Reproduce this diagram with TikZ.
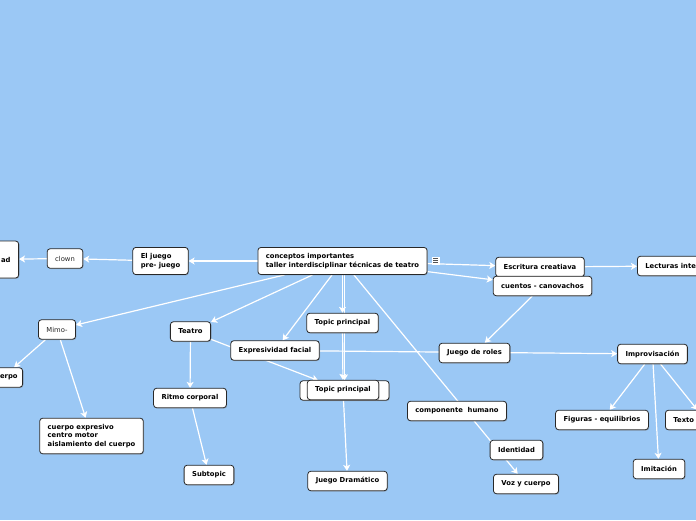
\documentclass[tikz,border=0pt]{standalone}
\usepackage{fontspec}
\setmainfont{DejaVu Sans}
\usetikzlibrary{positioning, arrows.meta, shadows}
\pgfdeclarelayer{back}
\pgfdeclarelayer{links}
\pgfsetlayers{back,links,main}
\definecolor{map_blue}{RGB}{155,200,245}
\definecolor{box_line}{RGB}{40,40,40}

\begin{document}
\begin{tikzpicture}[
    x=1pt, y=-1pt,
    topic_box/.style={rectangle, rounded corners=3pt, draw=box_line, line width=0.8pt, fill=white,
      drop shadow={shadow xshift=0.8pt, shadow yshift=-0.8pt, opacity=0.45},
      inner xsep=8pt, inner ysep=6pt, minimum height=19.5pt,
      font=\fontsize{6.8}{8.5}\selectfont\bfseries, align=left},
    plain_box/.style={topic_box, font=\fontsize{6.8}{8.5}\selectfont, text=black!85},
    menu_icon/.style={rectangle, fill=white, inner sep=0pt, minimum size=8pt},
    edge_path/.style={-{Stealth[length=6pt, width=7pt, inset=1.5pt]}, draw=white, line width=1.2pt}
  ]
    \useasboundingbox (0,0) rectangle (696,520);
    \begin{pgfonlayer}{back}
      \fill[map_blue] (0,0) rectangle (696,520);
    \end{pgfonlayer}

    \node[topic_box] (main) at (342.5,261) {conceptos importantes\\taller interdisciplinar técnicas de teatro};
    \node[menu_icon] (menu) at (435.5,260.5) {};
    \foreach \dy in {-2,0,2}
      \draw[box_line!80, line width=0.8pt] ([xshift=-2.5pt, yshift=\dy pt]menu.center) -- ([xshift=2.5pt, yshift=\dy pt]menu.center);

    \node[topic_box] (juego) at (160.5,261) {El juego\\pre- juego};
    \node[plain_box] (clown) at (65,258.5) {clown};
    \node[topic_box, anchor=east, text width=50pt, align=right, minimum height=37pt] (left_a) at (19,259.5) {ad};

    \node[plain_box] (mimo) at (57,329.5) {Mimo-};
    \node[topic_box, anchor=east, text width=30pt, align=right, inner xsep=5pt] (left_b) at (23,377.5) {erpo};
    \node[topic_box] (cuerpo_exp) at (91.5,436) {cuerpo expresivo\\centro motor\\aislamiento del cuerpo};

    \node[topic_box] (teatro) at (190.5,331.5) {Teatro};
    \node[topic_box] (ritmo) at (190,398) {Ritmo corporal};
    \node[topic_box] (subtopic) at (209,475) {Subtopic};

    \node[topic_box] (topic_a) at (342.5,323) {Topic principal};
    \node[topic_box] (expresividad) at (275,350.5) {Expresividad facial};
    \node[topic_box, minimum width=89pt] (topic_back) at (344.5,390.5) {};
    \node[topic_box] (topic_b) at (343,390) {Topic principal};
    \node[topic_box] (dramatico) at (347.5,481) {Juego Dramático};

    \node[topic_box] (componente) at (457,411) {componente~ humano};
    \node[topic_box] (identidad) at (516.5,450) {Identidad};
    \node[topic_box] (voz) at (526,484) {Voz y cuerpo};

    \node[topic_box] (escritura) at (540,267) {Escritura creatiava};
    \node[topic_box] (cuentos) at (542.5,286) {cuentos - canovachos};
    \node[topic_box, anchor=west] (lecturas) at (637,266) {Lecturas inte};

    \node[topic_box] (roles) at (474.5,353) {Juego de roles};
    \node[topic_box] (improv) at (652.5,354) {Improvisación};
    \node[topic_box] (figuras) at (602,420) {Figuras - equilibrios};
    \node[topic_box, anchor=west, text width=64pt] (texto) at (665,420) {Texto};
    \node[topic_box] (imitacion) at (659,469) {Imitación};

    \begin{pgfonlayer}{links}
      \draw[edge_path] (main) -- (juego);
      \draw[edge_path] (juego) -- (clown);
      \draw[edge_path] (clown) -- (left_a);
      \draw[edge_path] (main) -- (mimo);
      \draw[edge_path] (mimo) -- (left_b);
      \draw[edge_path] (mimo) -- (cuerpo_exp);
      \draw[edge_path] (main) -- (teatro);
      \draw[edge_path] (teatro) -- (ritmo);
      \draw[edge_path] (ritmo) -- (subtopic);
      \draw[edge_path] (teatro) -- (topic_back);
      \draw[edge_path] (main) -- (expresividad);
      \draw[edge_path] (expresividad) -- (improv);
      \draw[edge_path] (main) -- (topic_a);
      \draw[edge_path] (main.south -| topic_back.north) -- (topic_back.north);
      \draw[edge_path] (topic_a) -- (topic_b);
      \draw[edge_path] (topic_b) -- (dramatico);
      \draw[edge_path] (main) -- (voz);
      \draw[edge_path] (main) -- (escritura);
      \draw[edge_path] (main) -- (cuentos);
      \draw[edge_path] (escritura) -- (lecturas);
      \draw[edge_path] (cuentos) -- (roles);
      \draw[edge_path] (improv) -- (figuras);
      \draw[edge_path] (improv) -- (imitacion);
      \draw[edge_path] (improv) -- (texto);
    \end{pgfonlayer}
  \end{tikzpicture}
\end{document}
